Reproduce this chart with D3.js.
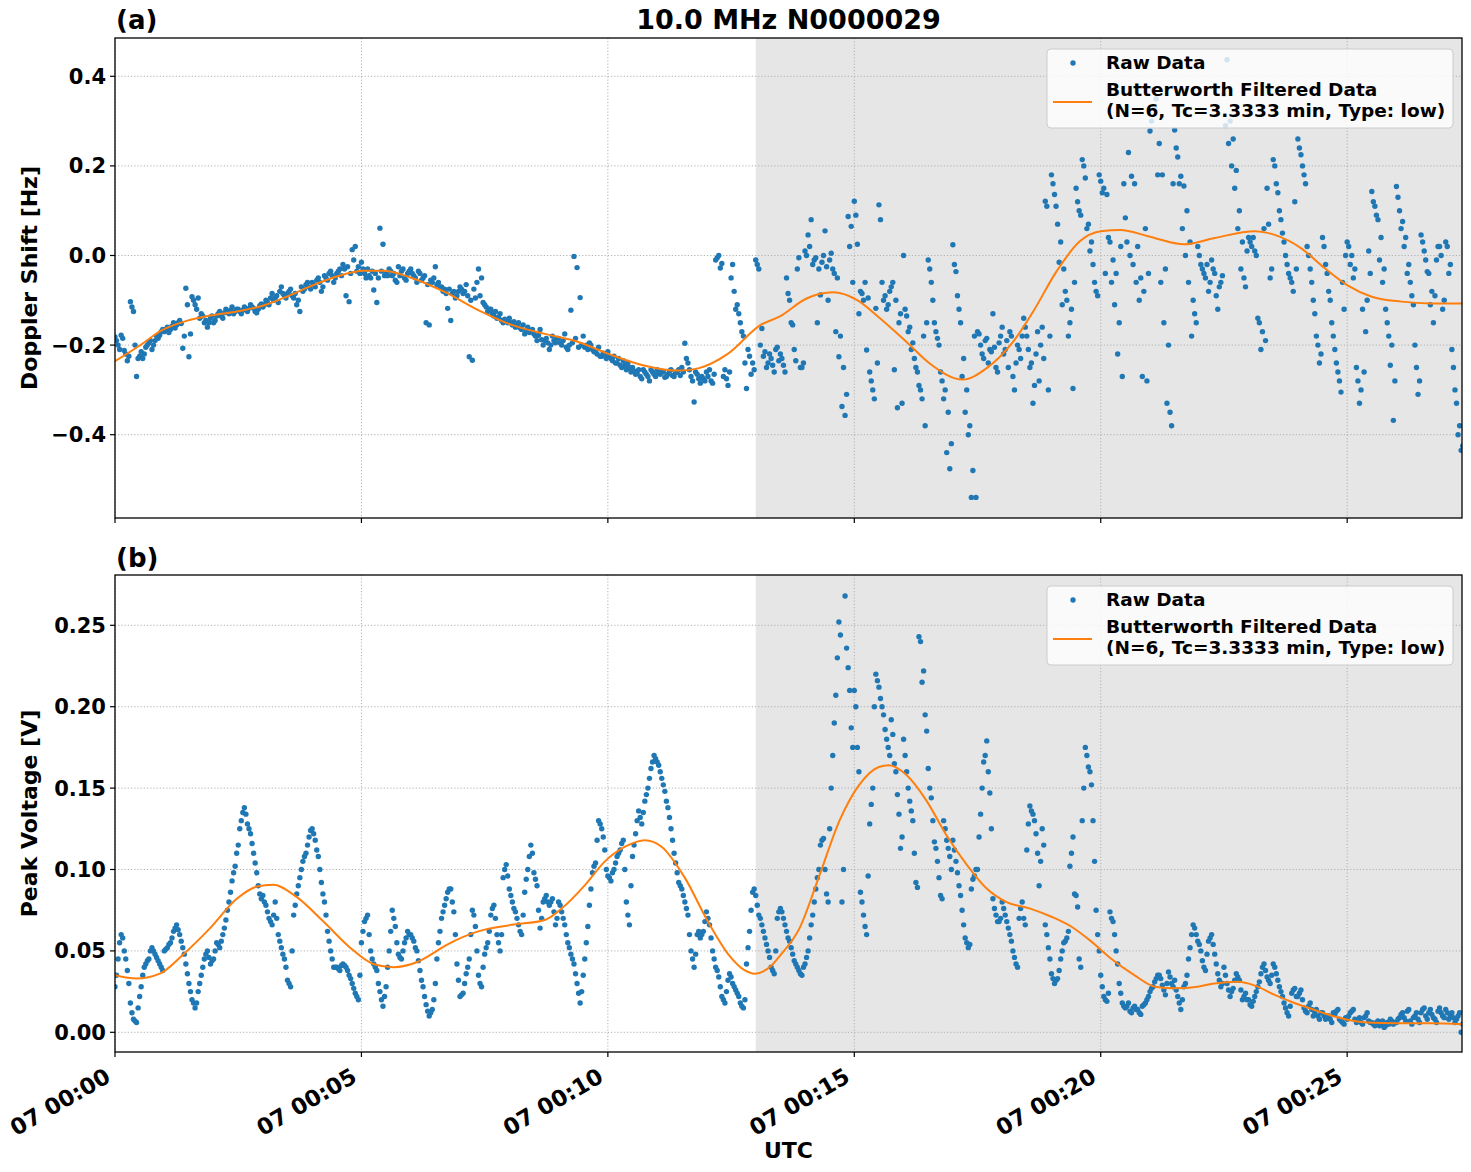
<!DOCTYPE html>
<html><head><meta charset="utf-8">
<script src="https://cdn.jsdelivr.net/npm/d3@7"></script>
<style>
body{margin:0;background:#fff;}
text{font-family:"DejaVu Sans",sans-serif;font-weight:bold;fill:#000;}
</style>
</head><body>
<svg id="c" width="1471" height="1172"></svg>
<script>
// ---------------- DATA ----------------
const sampleStepSec = 3.75;          // spacing of the raw samples (series A at k*step, series B at (k+0.5)*step)
const shadeStartMin = 13;            // start of shaded span (minutes after 00:00)
const endMin = 27.33;                // right limit of the x axis
const xTickMinutes = [0, 5, 10, 15, 20, 25];
const dopplerTicks = [-0.4, -0.2, 0.0, 0.2, 0.4];
const voltageTicks = [0.00, 0.05, 0.10, 0.15, 0.20, 0.25];

// Raw Doppler shift, in mHz (samples at k*step)
const dopplerRawA = [
-182,-200,-178,-212,-235,-103,-125,-270,
-225,-230,-205,-195,-210,-190,-185,-170,
-170,-160,-165,-150,-155,-145,-207,-73,
-226,-92,-110,-95,-130,-150,-160,-140,
-150,-135,-125,-140,-120,-130,-115,-125,
-120,-130,-115,-125,-110,-118,-128,-112,
-115,-100,-110,-85,-95,-105,-70,-90,
-85,-75,-95,-110,-125,-80,-65,-70,
-60,-70,-50,-80,-45,-55,-35,-60,
-40,-30,-20,-90,-103,13,20,-25,
-15,-40,-30,-50,-77,-105,61,25,
-40,-30,-45,-55,-25,-35,-50,-40,
-30,-45,-60,-40,-50,-150,-155,-60,
-25,-60,-70,-75,-118,-145,-80,-90,
-70,-85,-65,-226,-234,-95,-30,-50,
-110,-125,-120,-135,-140,-130,-150,-145,
-140,-155,-160,-150,-165,-175,-160,-170,
-175,-190,-165,-200,-185,-210,-180,-195,
-185,-200,-175,-210,-122,-2,-27,-94,
-180,-200,-195,-210,-215,-205,-225,-220,
-215,-230,-225,-240,-245,-235,-255,-250,
-250,-265,-255,-275,-260,-270,-255,-265,
-255,-265,-260,-270,-258,-268,-262,-255,
-250,-196,-240,-270,-327,-265,-285,-275,
-260,-255,-285,-10,0,-18,-255,-290,
-50,-80,-110,-150,-180,-297,-225,-240,
-10,-30,-163,-215,-240,-230,-260,-205,
-220,-245,-50,-100,-155,-235,-5,-250,
10,46,80,-10,-150,-88,0,-25,
-10,-30,-170,-226,-337,-357,87,65,
121,25,-80,-100,-211,-260,-300,-118,
113,-60,-90,-110,-70,-255,-340,-130,
0,-135,-160,-195,-250,-290,-320,-380,
-10,-60,-150,-185,-260,-320,-440,-476,
24,-36,-120,-270,-350,-400,-540,-180,
-170,-200,-230,-185,-210,-130,-250,-195,
-160,-210,-250,-180,-300,-200,-230,-140,
-180,-250,-330,-220,-280,-160,121,-300,
180,136,70,30,-30,-100,-150,-297,
150,100,214,173,70,30,-60,-90,
166,150,136,30,-10,-40,-150,-270,
84,230,177,160,20,-50,-80,-280,
278,370,350,250,180,-30,-200,-380,
280,220,177,155,100,30,-100,-150,
0,-30,-50,-80,-10,-40,-120,-60,
360,437,300,260,190,100,30,-70,
40,20,10,-140,-210,60,150,-50,
214,160,100,50,0,-40,-60,120,
260,225,180,20,-30,-100,-180,-240,
40,-20,-80,-150,-210,-260,-305,-120,
30,-20,-50,-250,-330,-120,-170,10,
143,110,80,40,-30,-150,-245,-368,
154,100,76,40,-20,-90,-200,-310,
46,10,-36,-110,-150,-10,20,-120,
30,-40,-210,-300,-400,-435
];
// Raw Doppler shift, in mHz (samples at (k+0.5)*step)
const dopplerRawB = [
-190,-210,-185,-220,-225,-115,-200,-230,
-215,-220,-200,-190,-200,-180,-178,-165,
-165,-172,-158,-162,-150,-152,-180,-110,
-175,-100,-120,-140,-135,-145,-150,-135,
-145,-130,-135,-128,-125,-122,-130,-120,
-125,-122,-120,-118,-115,-125,-120,-108,
-110,-105,-95,-100,-90,-80,-85,-95,
-80,-90,-85,-100,-70,-75,-60,-75,
-65,-55,-60,-70,-50,-40,-45,-50,
-35,-45,-30,-25,-40,-10,-35,-40,
-30,-50,-45,-35,-40,-50,-35,-45,
-45,-35,-40,-60,-45,-30,-55,-35,
-40,-50,-35,-55,-45,-65,-55,-50,
-65,-70,-80,-85,-75,-85,-95,-80,
-75,-80,-90,-100,-75,-60,-90,-105,
-115,-120,-130,-125,-138,-145,-142,-150,
-150,-148,-158,-162,-155,-168,-172,-165,
-180,-178,-188,-190,-195,-200,-190,-185,
-195,-190,-205,-200,-195,-185,-205,-200,
-205,-210,-200,-215,-220,-225,-218,-230,
-225,-235,-240,-230,-250,-245,-240,-260,
-258,-262,-270,-255,-265,-280,-260,-270,
-262,-258,-272,-265,-255,-270,-260,-268,
-260,-230,-255,-280,-260,-275,-270,-280,
-270,-280,-265,-5,-28,-270,-275,-260,
-20,-120,-130,-170,-240,-210,-265,-255,
-20,-200,-225,-250,-220,-245,-210,-235,
-230,-260,-85,-150,-210,-30,-250,-240,
0,20,-20,-5,-30,-15,55,-100,
5,-40,-50,-180,-250,-310,20,-60,
90,-130,-85,-60,-95,-280,-320,-240,
80,-100,-120,-80,-60,-100,-150,-330,
-120,-170,-210,-230,-260,-300,-180,-150,
-30,-100,-170,-200,-280,-300,-350,-420,
-20,-90,-150,-230,-300,-380,-480,-540,
-175,-220,-190,-240,-215,-205,-260,-180,
-220,-190,-170,-270,-240,-210,-180,-160,
-210,-240,-290,-170,-200,-230,110,-180,
160,110,-15,-110,-80,-180,-120,-60,
120,90,200,60,10,-20,-80,180,
140,-40,40,-60,-110,-220,20,160,
30,0,-20,-60,-100,-270,60,-40,
300,330,180,-60,-150,-330,-350,160,
240,160,60,0,-60,-180,-130,20,
-20,-40,-20,-60,-30,-90,-70,-45,
290,250,200,150,60,-30,-50,10,
30,40,0,-150,-170,-190,70,-30,
200,140,80,30,-20,-50,-80,-30,
240,200,160,0,-60,-130,-200,-220,
20,-40,-100,-180,-240,-280,-60,0,
20,0,-30,-280,-300,-260,-100,-40,
120,90,-10,-60,-120,-180,-200,-280,
130,60,20,-40,-60,-110,-250,-280,
30,-10,-40,-80,-90,20,0,-100,
20,-20,-250,-330,-380,-425
];

// Raw peak voltage, in mV (samples at k*step)
const voltageRawA = [
28,45,60,50,38,18,8,6,
22,35,42,45,52,48,44,40,
50,52,55,62,66,60,52,42,
30,20,15,25,35,45,50,42,
45,55,52,60,69,80,93,102,
115,130,138,128,122,110,98,85,
84,78,70,66,80,60,52,45,
32,28,72,85,95,105,110,120,
125,118,108,92,80,62,50,40,
40,38,42,40,35,30,24,20,
55,68,72,50,42,38,25,16,
28,50,75,65,48,45,55,62,
60,56,50,38,28,17,10,14,
30,55,70,78,86,88,74,42,
22,24,36,45,75,65,35,28,
48,55,72,78,60,50,95,103,
88,80,74,66,60,86,100,115,
98,90,64,80,84,78,82,66,
80,74,66,55,48,42,30,18,
35,55,78,98,104,130,125,112,
96,93,100,108,112,118,80,66,
108,122,136,128,142,150,162,170,
166,160,152,142,132,118,104,92,
88,80,72,50,40,60,58,62,
74,66,50,40,34,22,18,32,
34,28,24,18,15,42,62,86,
84,72,66,58,50,40,36,70,
76,70,62,56,48,42,38,35,
42,50,66,80,95,115,119,85,
125,170,207,252,80,268,224,187,
210,175,86,72,60,128,150,220,
212,200,186,175,192,165,146,113,
180,160,142,130,92,243,215,195,
162,144,117,105,84,130,118,108,
118,105,90,75,58,52,88,96,
100,134,166,179,147,82,72,68,
80,72,64,56,46,40,76,70,
112,139,134,122,90,125,66,52,
36,30,33,45,55,58,102,120,
84,45,130,175,163,152,105,60,
35,22,19,74,68,50,30,18,
15,18,12,16,14,11,17,20,
25,28,33,35,29,23,37,30,
32,22,14,28,35,52,66,60,
54,44,38,56,60,48,36,28,
40,30,22,27,36,32,20,24,
20,16,22,28,36,42,34,30,
42,36,28,22,15,10,24,27,
22,26,15,12,18,10,14,8,
12,8,10,6,11,14,7,5,
8,12,14,6,9,5,10,7,
6,4,7,5,3,6,8,5,
6,9,12,7,14,5,10,8,
12,15,8,14,9,6,15,10,
14,8,12,6,10,0
];
// Raw peak voltage, in mV (samples at (k+0.5)*step)
const voltageRawB = [
35,55,58,45,30,12,7,15,
28,40,44,50,50,46,42,38,
51,54,58,64,63,56,48,36,
25,18,18,30,40,48,46,44,
50,54,56,64,75,86,98,110,
125,135,134,125,116,104,90,82,
80,74,68,72,70,56,48,40,
30,50,78,90,100,108,115,124,
122,112,100,85,72,56,45,40,
39,41,41,38,33,27,22,35,
62,70,60,45,40,30,20,22,
40,62,70,55,46,50,58,60,
58,52,44,32,22,13,12,20,
45,62,74,82,88,80,60,32,
23,30,40,60,72,50,30,40,
52,62,76,70,55,60,100,96,
84,76,70,62,72,94,108,110,
94,75,70,82,80,80,74,70,
78,70,60,52,45,36,24,25,
45,65,88,102,118,128,120,100,
95,98,104,110,116,100,72,90,
115,130,132,135,146,156,166,168,
164,156,148,138,125,110,98,90,
84,76,60,45,48,62,60,68,
70,58,45,38,28,20,25,36,
30,26,22,16,20,52,75,88,
78,70,62,54,46,38,50,74,
74,66,58,52,44,40,36,40,
46,58,72,88,100,118,100,80,
150,190,230,244,100,236,210,175,
200,160,80,65,96,140,200,216,
205,195,180,170,183,160,134,120,
170,150,136,110,89,240,222,185,
150,130,113,95,82,125,113,100,
112,98,84,66,55,54,94,100,
120,150,170,160,125,76,68,70,
76,68,60,50,42,70,80,66,
128,136,130,110,105,115,60,45,
33,32,38,50,56,62,110,85,
77,40,150,170,160,130,75,50,
28,20,24,70,60,42,24,16,
16,13,15,14,12,16,18,22,
27,31,35,33,26,30,34,28,
26,18,20,30,45,60,64,56,
50,40,48,58,54,42,32,30,
35,26,25,32,34,26,22,20,
17,19,25,31,40,38,32,35,
40,32,25,18,12,16,26,22,
24,20,13,16,14,12,10,12,
10,9,8,12,13,8,6,9,
10,13,8,7,6,9,12,6,
5,6,4,7,4,5,7,6,
8,11,9,13,7,9,12,6,
14,10,12,11,8,13,12,9,
12,10,9,8,12,5
];

// Butterworth filtered curves (minutes, value)
const dopFiltMin = [0,0.57,0.9,1.45,1.93,2.47,2.94,3.48,3.96,4.5,5.04,5.45,5.99,6.7,7.37,8.05,8.72,9.4,10.0,10.75,11.43,11.83,12.44,13.1,13.49,14.03,14.57,15.05,15.52,16.06,16.53,17.2,17.68,18.22,18.63,19.1,19.57,20.0,20.4,20.96,21.7,22.31,23.13,23.53,24.07,24.54,25.0,25.5,26.1,26.7,27.33];
const dopFiltVal = [-0.236,-0.196,-0.17,-0.146,-0.134,-0.125,-0.114,-0.092,-0.069,-0.047,-0.034,-0.034,-0.049,-0.082,-0.122,-0.155,-0.175,-0.193,-0.219,-0.246,-0.257,-0.252,-0.219,-0.155,-0.136,-0.096,-0.082,-0.099,-0.14,-0.193,-0.241,-0.277,-0.252,-0.193,-0.125,-0.036,0.031,0.054,0.057,0.043,0.025,0.039,0.054,0.046,0.016,-0.028,-0.066,-0.092,-0.103,-0.107,-0.107];
const volFiltMin = [0,0.44,0.91,1.39,1.93,2.47,2.88,3.21,3.69,4.23,4.77,5.24,5.65,6.12,6.53,6.75,7.37,8.05,8.72,9.06,9.54,9.94,10.35,10.75,11.09,11.56,12.03,12.44,12.78,12.98,13.32,13.49,13.89,14.3,14.7,15.1,15.5,15.7,16.06,16.47,16.87,17.28,17.68,18.09,18.57,19.0,19.4,19.8,20.2,20.69,21.1,21.5,21.97,22.31,22.79,23.13,23.53,23.93,24.34,24.88,25.4,26.0,26.7,27.33];
const volFiltVal = [0.035,0.033,0.036,0.048,0.064,0.082,0.0895,0.0906,0.083,0.068,0.052,0.042,0.040,0.043,0.050,0.054,0.062,0.066,0.069,0.076,0.0906,0.105,0.114,0.118,0.114,0.095,0.068,0.048,0.038,0.036,0.041,0.047,0.064,0.097,0.13,0.152,0.163,0.164,0.158,0.142,0.121,0.103,0.0885,0.080,0.076,0.071,0.065,0.056,0.0455,0.035,0.028,0.027,0.028,0.030,0.031,0.0287,0.023,0.018,0.0137,0.0086,0.006,0.0055,0.0055,0.005];

const titleText = "10.0 MHz N0000029";
const legendRaw = "Raw Data";
const legendFilt1 = "Butterworth Filtered Data";
const legendFilt2 = "(N=6, Tc=3.3333 min, Type: low)";

// ---------------- DRAWING ----------------
const svg = d3.select("#c");
const base = Date.UTC(2024, 0, 7, 0, 0, 0);
const toDate = m => new Date(base + m * 60000);
const BLUE = "#1f77b4", ORANGE = "#ff7f0e";

const x = d3.scaleUtc().domain([toDate(0), toDate(endMin)]).range([115, 1462]);
const fmtTime = d3.utcFormat("%d %H:%M");

function mergeRaw(a, b, scale) {
  const out = [];
  a.forEach((v, i) => {
    out.push({t: toDate(i * sampleStepSec / 60), v: v / scale});
    if (i < b.length) out.push({t: toDate((i + 0.5) * sampleStepSec / 60), v: b[i] / scale});
  });
  return out;
}

const panels = [
  {top: 38, bottom: 518, domain: [-0.586, 0.4855], ticks: dopplerTicks, fmt: d3.format(".1f"),
   raw: mergeRaw(dopplerRawA, dopplerRawB, 1000), fm: dopFiltMin, fv: dopFiltVal,
   ylabel: "Doppler Shift [Hz]", tag: "(a)", tagY: 29, showX: false},
  {top: 575, bottom: 1052, domain: [-0.0121, 0.2809], ticks: voltageTicks, fmt: d3.format(".2f"),
   raw: mergeRaw(voltageRawA, voltageRawB, 1000), fm: volFiltMin, fv: volFiltVal,
   ylabel: "Peak Voltage [V]", tag: "(b)", tagY: 567, showX: true}
];

panels.forEach((p, pi) => {
  const y = d3.scaleLinear().domain(p.domain).range([p.bottom, p.top]);
  const g = svg.append("g");
  const L = 115, R = 1462;
  const cid = "clip" + pi;
  svg.append("clipPath").attr("id", cid).append("rect")
    .attr("x", L).attr("y", p.top).attr("width", R - L).attr("height", p.bottom - p.top);

  // shaded span
  g.append("rect").attr("x", x(toDate(shadeStartMin))).attr("y", p.top)
    .attr("width", R - x(toDate(shadeStartMin))).attr("height", p.bottom - p.top)
    .attr("fill", "#e6e6e6");

  // grid
  const grid = g.append("g").attr("stroke", "#b0b0b0").attr("stroke-width", 1)
    .attr("stroke-dasharray", "1.2,2");
  xTickMinutes.forEach(m => grid.append("line")
    .attr("x1", x(toDate(m))).attr("x2", x(toDate(m))).attr("y1", p.top).attr("y2", p.bottom));
  p.ticks.forEach(t => grid.append("line")
    .attr("x1", L).attr("x2", R).attr("y1", y(t)).attr("y2", y(t)));

  // raw points
  g.append("g").attr("clip-path", `url(#${cid})`).selectAll("circle").data(p.raw).join("circle")
    .attr("cx", d => x(d.t)).attr("cy", d => y(d.v)).attr("r", 2.7).attr("fill", BLUE);

  // filtered line
  const fl = p.fm.map((m, i) => ({t: toDate(m), v: p.fv[i]}));
  g.append("path").datum(fl).attr("clip-path", `url(#${cid})`)
    .attr("fill", "none").attr("stroke", ORANGE).attr("stroke-width", 2)
    .attr("d", d3.line().x(d => x(d.t)).y(d => y(d.v)).curve(d3.curveMonotoneX));

  // frame
  g.append("rect").attr("x", L).attr("y", p.top).attr("width", R - L).attr("height", p.bottom - p.top)
    .attr("fill", "none").attr("stroke", "#000").attr("stroke-width", 1.3);

  // y ticks
  p.ticks.forEach(t => {
    g.append("line").attr("x1", L - 5).attr("x2", L).attr("y1", y(t)).attr("y2", y(t))
      .attr("stroke", "#000").attr("stroke-width", 1.2);
    g.append("text").attr("x", L - 9).attr("y", y(t) + 7.5).attr("text-anchor", "end")
      .attr("font-size", 21).text(p.fmt(t));
  });
  // x ticks
  xTickMinutes.forEach(m => {
    const xx = x(toDate(m));
    g.append("line").attr("x1", xx).attr("x2", xx).attr("y1", p.bottom).attr("y2", p.bottom + 5)
      .attr("stroke", "#000").attr("stroke-width", 1.2);
    if (p.showX) {
      g.append("text").attr("text-anchor", "end").attr("font-size", 22.5)
        .attr("transform", `translate(${xx - 3},${p.bottom + 29}) rotate(-30)`)
        .text(fmtTime(toDate(m)));
    }
  });

  // y label
  g.append("text").attr("text-anchor", "middle").attr("font-size", 22)
    .attr("transform", `translate(37,${(p.top + p.bottom) / 2}) rotate(-90)`).text(p.ylabel);
  // panel tag
  g.append("text").attr("x", 116).attr("y", p.tagY).attr("font-size", 26).text(p.tag);

  // legend
  const lx = 1047, ly = p.top + 11, lw = 406, lh = 79;
  const lg = g.append("g");
  lg.append("rect").attr("x", lx).attr("y", ly).attr("width", lw).attr("height", lh).attr("rx", 4)
    .attr("fill", "#fff").attr("fill-opacity", 0.8).attr("stroke", "#cccccc").attr("stroke-width", 1);
  lg.append("circle").attr("cx", lx + 26).attr("cy", ly + 14).attr("r", 2.7).attr("fill", BLUE);
  lg.append("line").attr("x1", lx + 6).attr("x2", lx + 45).attr("y1", ly + 53).attr("y2", ly + 53)
    .attr("stroke", ORANGE).attr("stroke-width", 2);
  lg.append("text").attr("x", lx + 59).attr("y", ly + 20).attr("font-size", 18.5).text(legendRaw);
  lg.append("text").attr("x", lx + 59).attr("y", ly + 47).attr("font-size", 18.5).text(legendFilt1);
  lg.append("text").attr("x", lx + 59).attr("y", ly + 68).attr("font-size", 18.5).text(legendFilt2);
});

svg.append("text").attr("x", 788.5).attr("y", 29).attr("text-anchor", "middle")
  .attr("font-size", 27).text(titleText);
svg.append("text").attr("x", 788.5).attr("y", 1158).attr("text-anchor", "middle")
  .attr("font-size", 22).text("UTC");
</script>
</body></html>
